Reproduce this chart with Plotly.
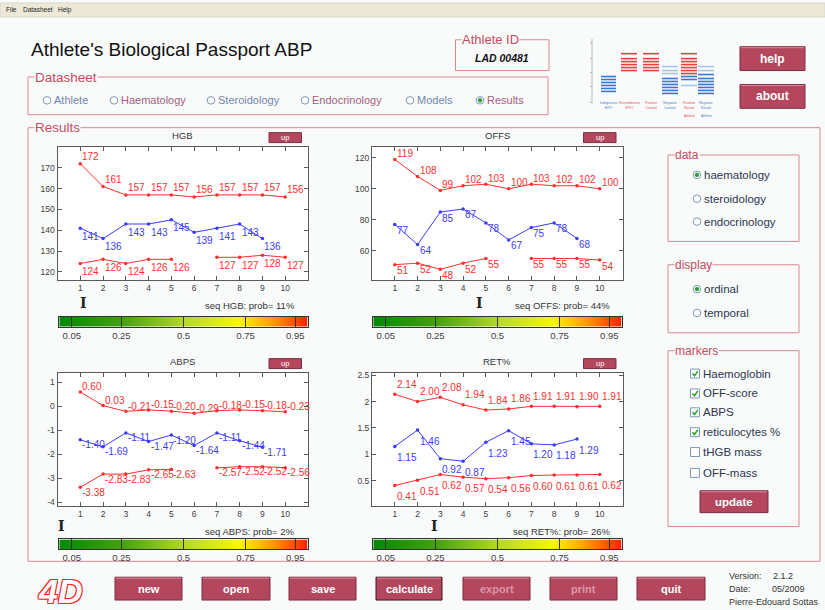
import plotly.graph_objects as go

W, H = 825, 610


def X(p):
    return p / W


def Y(p):
    return 1 - p / H


# ---------------- data ----------------
samples = [1, 2, 3, 4, 5, 6, 7, 8, 9, 10]

hgb_upper = [172, 161, 157, 157, 157, 156, 157, 157, 157, 156]
hgb_value = [141, 136, 143, 143, 145, 139, 141, 143, 136]
hgb_lower = [124, 126, 124, 126, 126, None, 127, 127, 128, 127]

offs_upper = [119, 108, 99, 102, 103, 100, 103, 102, 102, 100]
offs_value = [77, 64, 85, 87, 78, 67, 75, 78, 68]
offs_lower = [51, 52, 48, 52, 55, None, 55, 55, 55, 54]

abps_upper = [0.60, 0.03, -0.21, -0.15, -0.20, -0.29, -0.18, -0.15, -0.18, -0.23]
abps_value = [-1.40, -1.69, -1.11, -1.47, -1.20, -1.64, -1.11, -1.44, -1.71]
abps_lower = [-3.38, -2.83, -2.83, -2.65, -2.63, None, -2.57, -2.52, -2.52, -2.56]

ret_upper = [2.14, 2.00, 2.08, 1.94, 1.84, 1.86, 1.91, 1.91, 1.90, 1.91]
ret_value = [1.15, 1.46, 0.92, 0.87, 1.23, 1.45, 1.20, 1.18, 1.29]
ret_lower = [0.41, 0.51, 0.62, 0.57, 0.54, 0.56, 0.60, 0.61, 0.61, 0.62]

panel_titles = ["HGB", "OFFS", "ABPS", "RET%"]
seq_probs = [11, 44, 2, 26]

hgb_yticks = [120, 130, 140, 150, 160, 170]
offs_yticks = [60, 80, 100, 120]
abps_yticks = [-4, -3, -2, -1, 0, 1]
ret_yticks = [0.5, 1, 1.5, 2, 2.5]
ret_yticklabels = ["0.5", "1", "1.5", "2", "2.5"]

prob_ticks = [0.05, 0.25, 0.5, 0.75, 0.95]
prob_ticklabels = ["0.05", "0.25", "0.5", "0.75", "0.95"]
grad_stops = [0.0, 0.25, 0.5, 0.72, 0.86, 1.0]
grad_colors = ["#058a05", "#44a010", "#b4d830", "#f8f800", "#ff9800", "#ff2000"]

datasheet_options = ["Athlete", "Haematology", "Steroidology", "Endocrinology", "Models", "Results"]
data_options = ["haematology", "steroidology", "endocrinology"]
display_options = ["ordinal", "temporal"]
marker_options = ["Haemoglobin", "OFF-score", "ABPS", "reticulocytes %", "tHGB mass", "OFF-mass"]
marker_checked = [True, True, True, True, False, False]
bottom_buttons = ["new", "open", "save", "calculate", "export", "print", "quit"]

# ---------------- style ----------------
FONT = "Liberation Sans, Arial, sans-serif"
PAPER = "#f9fbfb"
RED = "#ff2e2e"
BLUE = "#3c3cff"
BOX = "#dc8793"
LABEL = "#c64a5c"
BTN = "#b4475e"
AXC = "#5a5a5a"

panels = [
    dict(title=panel_titles[0], upper=hgb_upper, value=hgb_value, lower=hgb_lower,
         yt=hgb_yticks, ytl=[str(v) for v in hgb_yticks], fmt="{:.0f}", prob=seq_probs[0],
         dom=(57.5, 308, 145, 279), yr=[116, 180], cb=(59.3, 307.7, 315.7, 326),
         dy=(-7, 8, 8)),
    dict(title=panel_titles[1], upper=offs_upper, value=offs_value, lower=offs_lower,
         yt=offs_yticks, ytl=[str(v) for v in offs_yticks], fmt="{:.0f}", prob=seq_probs[1],
         dom=(372, 622.5, 145, 279), yr=[41, 127], cb=(373.3, 621.7, 315.7, 326),
         dy=(-6, 6, 6)),
    dict(title=panel_titles[2], upper=abps_upper, value=abps_value, lower=abps_lower,
         yt=abps_yticks, ytl=[str(v) for v in abps_yticks], fmt="{:.2f}", prob=seq_probs[2],
         dom=(57.5, 308, 372.5, 506.5), yr=[-4.17, 1.39], cb=(59.3, 307.7, 540, 549.7),
         dy=(-5, 5, 5)),
    dict(title=panel_titles[3], upper=ret_upper, value=ret_value, lower=ret_lower,
         yt=ret_yticks, ytl=ret_yticklabels, fmt="{:.2f}", prob=seq_probs[3],
         dom=(372, 622.5, 372.5, 506.5), yr=[0.02, 2.54], cb=(373.3, 621.7, 540, 549.7),
         dy=(-10, 11, 11)),
]

fig = go.Figure()
shapes = []
annotations = []


def text(x, y, s, size=11, color="#222", anchor="left", yanchor="middle", bold=False,
         italic=False, family=FONT, bg=None, **kw):
    if bold:
        s = "<b>" + s + "</b>"
    if italic:
        s = "<i>" + s + "</i>"
    a = dict(x=X(x), y=Y(y), xref="paper", yref="paper", text=s, showarrow=False,
             xanchor=anchor, yanchor=yanchor, font=dict(size=size, color=color, family=family),
             borderpad=0)
    if bg:
        a["bgcolor"] = bg
    a.update(kw)
    annotations.append(a)


def rect(x0, y0, x1, y1, line=BOX, fill="rgba(0,0,0,0)", width=1, layer="above"):
    shapes.append(dict(type="rect", xref="paper", yref="paper", x0=X(x0), x1=X(x1),
                       y0=Y(y1), y1=Y(y0), line=dict(color=line, width=width),
                       fillcolor=fill, layer=layer))


def line(x0, y0, x1, y1, color, width=1):
    shapes.append(dict(type="line", xref="paper", yref="paper", x0=X(x0), x1=X(x1),
                       y0=Y(y0), y1=Y(y1), line=dict(color=color, width=width)))


def circle(cx, cy, r, line_c, fill):
    shapes.append(dict(type="circle", xref="paper", yref="paper", x0=X(cx - r), x1=X(cx + r),
                       y0=Y(cy + r), y1=Y(cy - r), line=dict(color=line_c, width=1),
                       fillcolor=fill))


def group(x0, y0, x1, y1, label, size=13):
    rect(x0, y0, x1, y1, layer="below")
    text(x0 + 6, y0, label, size=size, color=LABEL, bg=PAPER)


def button(x0, y0, x1, y1, label, size=11, fg="white", border="#7c2c3e"):
    rect(x0, y0, x1, y1, line=border, fill=BTN)
    line(x0 + 1, y0 + 1, x1 - 1, y0 + 1, "#d98a9a")
    text((x0 + x1) / 2, (y0 + y1) / 2, label, size=size, color=fg, anchor="center", bold=True)


def radio(cx, cy, label, selected, color, size=11):
    circle(cx, cy, 3.8, "#7d98b8", "white")
    if selected:
        circle(cx, cy, 1.8, "#2e9e3e", "#2e9e3e")
    text(cx + 6, cy, label, size=size, color=color)


def checkbox(cx, cy, label, checked, size=11.5):
    rect(cx - 4.5, cy - 4.5, cx + 4.5, cy + 4.5, line="#7d98b8", fill="white")
    if checked:
        p = "M {} {} L {} {} L {} {}".format(X(cx - 2.5), Y(cy), X(cx - 0.5), Y(cy + 2.3),
                                              X(cx + 2.8), Y(cy - 2.5))
        shapes.append(dict(type="path", xref="paper", yref="paper", path=p,
                           line=dict(color="#23a023", width=1.5)))
    text(cx + 7, cy, label, size=size, color="#2c3550")


# ---------------- charts ----------------
axis_common = dict(showgrid=False, zeroline=False, showline=True, mirror="ticks",
                   ticks="inside", ticklen=4, linecolor=AXC, tickcolor=AXC, linewidth=1,
                   tickfont=dict(size=8.5, color="#404040", family=FONT), fixedrange=True)

colorscale = [[s, c] for s, c in zip(grad_stops, grad_colors)]

for k, p in enumerate(panels, start=1):
    x0, x1, y0, y1 = p["dom"]
    xa = "x" if k == 1 else "x%d" % k
    ya = "y" if k == 1 else "y%d" % k
    fig.layout["xaxis" if k == 1 else "xaxis%d" % k] = dict(
        axis_common, domain=[X(x0), X(x1)], range=[0, 11], anchor=ya,
        tickvals=samples, ticktext=[str(s) for s in samples])
    fig.layout["yaxis" if k == 1 else "yaxis%d" % k] = dict(
        axis_common, domain=[Y(y1), Y(y0)], range=p["yr"], anchor=xa,
        tickvals=p["yt"], ticktext=p["ytl"])
    series = [(p["upper"], RED, p["dy"][0]), (p["value"], BLUE, p["dy"][1]),
              (p["lower"], RED, p["dy"][2])]
    for vals, col, dy in series:
        xs = samples[:len(vals)]
        fig.add_trace(go.Scatter(x=xs, y=vals, mode="lines+markers", xaxis=xa, yaxis=ya,
                                 line=dict(color=col, width=1), connectgaps=False,
                                 marker=dict(color=col, size=3.5), hoverinfo="skip"))
        for xv, yv in zip(xs, vals):
            if yv is None:
                continue
            annotations.append(dict(x=xv, y=yv, xref=xa, yref=ya, text=p["fmt"].format(yv),
                                    showarrow=False, xanchor="left", yanchor="middle",
                                    xshift=0, yshift=-dy,
                                    font=dict(size=10, color=col, family=FONT)))
    # title
    text((x0 + x1) / 2, y0 - 11.5, p["title"], size=9.5, color="#333", anchor="center")
    # up button
    rect(x1 - 39, y0 - 14.5, x1 - 6.5, y0 - 4.5, line="#7c2c3e", fill=BTN)
    text(x1 - 22.7, y0 - 9.5, "up", size=7.5, color="white", anchor="center")
    # seq text
    text(x1 - 12, y1 + 25.5, "seq %s: prob= %d%%" % (p["title"], p["prob"]), size=9.5,
         color="#333", anchor="right")

    # probability colour bar
    c0, c1, cy0, cy1 = p["cb"]
    cxn, cyn = k + 4, k + 4
    fig.layout["xaxis%d" % cxn] = dict(
        showgrid=False, zeroline=False, showline=True, mirror="ticks", ticks="inside",
        ticklen=cy1 - cy0, tickcolor="#333", linecolor="#333", linewidth=1,
        domain=[X(c0), X(c1)], range=[0, 1], anchor="y%d" % cyn, tickvals=prob_ticks,
        ticktext=prob_ticklabels, tickfont=dict(size=9.5, color="#404040", family=FONT),
        fixedrange=True)
    fig.layout["yaxis%d" % cyn] = dict(
        showgrid=False, zeroline=False, showline=True, mirror=True, linecolor="#333",
        showticklabels=False, ticks="", domain=[Y(cy1), Y(cy0)], range=[-0.5, 0.5],
        anchor="x%d" % cxn, fixedrange=True)
    fig.add_trace(go.Heatmap(z=[grad_stops], x=grad_stops, y=[0], colorscale=colorscale,
                             zmin=0, zmax=1, zsmooth="best", showscale=False,
                             xaxis="x%d" % cxn, yaxis="y%d" % cyn, hoverinfo="skip"))
    # I marker at probability position
    annotations.append(dict(x=p["prob"] / 100.0, y=Y(cy0 - 14), xref="x%d" % cxn,
                            yref="paper", text="<b>I</b>", showarrow=False,
                            xanchor="center", yanchor="middle", xshift=-3,
                            font=dict(size=14, color="#222", family="DejaVu Serif, serif")))

# ---------------- GUI chrome ----------------
rect(0, 0, W, 14, line="#d8d6c8", fill="#ece9d8", layer="below")
text(5, 7, "File", size=6.5, color="#222")
text(22, 7, "Datasheet", size=6.5, color="#222")
text(57, 7, "Help", size=6.5, color="#222")

text(30, 47, "Athlete's Biological Passport ABP", size=19, color="#111")

rect(455.5, 37, 549, 68, layer="below")
text(461, 37, "Athlete ID", size=13, color=LABEL, bg=PAPER)
text(502, 55, "LAD 00481", size=10.5, color="#111", anchor="center", bold=True, italic=True)

group(28, 74.5, 548, 112.5, "Datasheet", size=13.5)
ds_x = [47, 114, 211, 305, 410, 480]
ds_col = ["#7385ad", "#a8607e", "#7385ad", "#a8607e", "#7385ad", "#a8607e"]
for cx, lab, col in zip(ds_x, datasheet_options, ds_col):
    radio(cx, 98, lab, lab == "Results", col, size=11)

button(740, 44, 805, 68, "help", size=12)
button(740, 82, 805, 106, "about", size=12)

# passport thumbnail (decorative)
line(592, 36, 592, 101, "#b8b8b8")
for ty in [40, 56, 70, 84, 100]:
    line(590, ty, 592, ty, "#b8b8b8")
thumb_cols = [
    (601, 616, [("#3a78d0", y) for y in [74, 77, 80, 83, 86, 89]]),
    (621, 637, [("#e84040", y) for y in [51, 56, 59, 62, 65, 68]]),
    (643, 659, [("#e84040", y) for y in [51, 56, 59, 62, 65, 68]]),
    (662, 678, [("#a8c4ec", y) for y in [64, 68, 71]] +
     [("#3a78d0", y) for y in [76, 79, 82, 85, 88, 91]]),
    (681, 697, [("#e84040", y) for y in [51, 56, 59, 62, 65, 68, 71]] +
     [("#3a78d0", y) for y in [74, 77]] + [("#a8c4ec", 83)]),
    (698, 714, [("#a8c4ec", y) for y in [64, 68]] +
     [("#3a78d0", y) for y in [72, 76, 79, 82, 85, 88, 91]]),
]
thumb_labels = ["Indigenous\nEPO", "Recombinant\nEPO", "Positive\nControl", "Negative\nControl",
                "Positive\nResult", "Negative\nResult"]
thumb_lcol = ["#4a80d0", "#e85050", "#e85050", "#4a80d0", "#e85050", "#4a80d0"]
for (a, b, lines_), lab, lc in zip(thumb_cols, thumb_labels, thumb_lcol):
    for col, yy in lines_:
        line(a, yy, b, yy, col, width=1.6)
    text((a + b) / 2, 103, lab.replace("\n", "<br>"), size=3.5, color=lc, anchor="center")
text(689, 114, "Athlete", size=3.5, color="#e85050", anchor="center")
text(706, 114, "Athlete", size=3.5, color="#4a80d0", anchor="center")

# results group
group(28, 125.5, 820, 562, "Results", size=13.5)

group(668, 153, 799, 240, "data", size=12)
for cy, lab in zip([173, 197, 220], data_options):
    radio(697, cy, lab, lab == "haematology", "#2c3550", size=11.5)

group(668, 263.5, 799, 332, "display", size=12)
for cy, lab in zip([288, 312], display_options):
    radio(697, cy, lab, lab == "ordinal", "#2c3550", size=11.5)

group(668, 350, 799, 527, "markers", size=12)
for cy, lab, chk in zip([373, 393, 412, 432, 452, 473], marker_options, marker_checked):
    checkbox(695, cy, lab, chk)
button(700, 491, 768, 513, "update", size=11.5)

# bottom buttons
bx = [(115, 182), (202, 270), (289, 356), (376, 442), (463, 530), (550, 617), (637, 705)]
for (a, b), lab in zip(bx, bottom_buttons):
    disabled = lab in ("export", "print")
    border = "#3a1520" if lab == "calculate" else "#7c2c3e"
    button(a, 578, b, 601, lab, size=11, fg="#dc98a8" if disabled else "white", border=border)

# version block
text(728, 577, "Version:", size=9, color="#333")
text(772, 577, "2.1.2", size=9, color="#333")
text(728, 590, "Date:", size=9, color="#333")
text(771, 590, "05/2009", size=9, color="#333")
text(728, 603, "Pierre-Edouard Sottas", size=9, color="#333")

# logo
annotations.append(dict(x=X(60), y=Y(592), xref="paper", yref="paper",
                        text="<b><i>4D</i></b>", showarrow=False, xanchor="center",
                        yanchor="middle",
                        font=dict(size=34, color="white", family=FONT,
                                  shadow="-1px -1px 0 #ff2020, 1px -1px 0 #ff2020, "
                                         "-1px 1px 0 #ff2020, 1px 1px 0 #ff2020")))

fig.update_layout(
    width=W, height=H, margin=dict(l=0, r=0, t=0, b=0),
    paper_bgcolor=PAPER, plot_bgcolor="white", showlegend=False,
    shapes=shapes, annotations=annotations,
    font=dict(family=FONT),
)

fig.write_html("out.html", config={"displayModeBar": False},
               post_script="document.body.style.margin='0px';"
                           "document.body.style.overflow='hidden';")
